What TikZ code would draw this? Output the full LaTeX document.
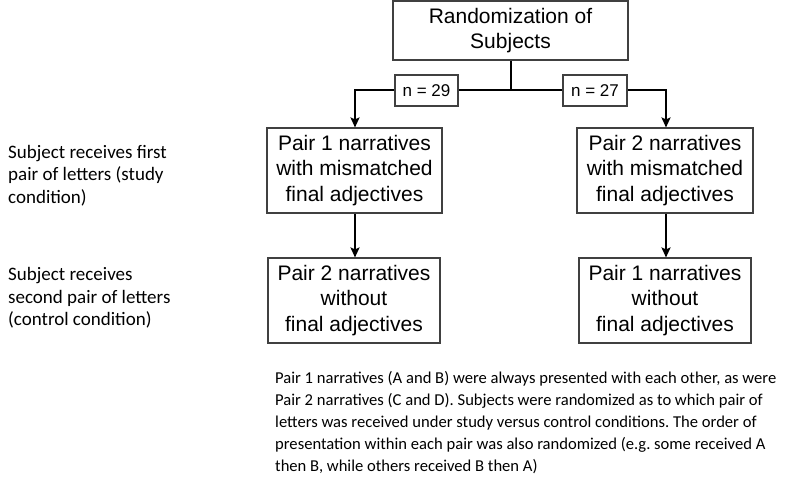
\documentclass[tikz,border=0pt]{standalone}
\usepackage{fontspec}
\setmainfont{Liberation Sans}
\newfontfamily\calib{Carlito}
\usetikzlibrary{arrows.meta}
\begin{document}
\frenchspacing
\begin{tikzpicture}[x=1pt,y=-1pt,
  box/.style={draw=black!75, line width=1.1pt, inner sep=0pt, align=center,
     font=\fontsize{21}{25.5}\selectfont},
  nbox/.style={draw=black!75, line width=1.1pt, inner sep=0pt, align=center,
     minimum width=63pt, minimum height=31pt, fill=white,
     font=\fontsize{17}{20}\selectfont},
  side/.style={anchor=west, align=left, inner sep=0pt,
     font=\calib\fontsize{19}{22.5}\selectfont},
  para/.style={anchor=north west, align=left, inner sep=0pt,
     font=\calib\fontsize{16.6}{22}\selectfont},
  conn/.style={line width=2pt, black},
  arr/.style={conn, -{Stealth[length=10pt,width=9pt,inset=2pt]}}]
\useasboundingbox (0,0) rectangle (800,487);

\node[box, minimum width=235pt, minimum height=59pt] (top) at (510.5,30.5) {Randomization of\\Subjects};
\node[box, minimum width=175pt, minimum height=85pt] (l1) at (354.5,170.5) {Pair 1 narratives\\with mismatched\\final adjectives};
\node[box, minimum width=176pt, minimum height=85pt] (r1) at (665,170.5) {Pair 2 narratives\\with mismatched\\final adjectives};
\node[box, minimum width=172pt, minimum height=85pt] (l2) at (354,300.5) {Pair 2 narratives\\without\\final adjectives};
\node[box, minimum width=172pt, minimum height=85pt] (r2) at (665,300.5) {Pair 1 narratives\\without\\final adjectives};

\coordinate (j) at (510.5,90);
\coordinate (jl) at (355,90);
\coordinate (jr) at (666,90);
\draw[conn] (top.south) -- (j);
\draw[arr] (j) -- (jl) -- (l1.north -| jl);
\draw[arr] (j) -- (jr) -- (r1.north -| jr);
\node[nbox] (n29) at (426.5,90.5) {n = 29};
\node[nbox, minimum width=64pt] (n27) at (595,90.5) {n = 27};

\draw[arr] (l1.south -| jl) -- (l2.north -| jl);
\draw[arr] (r1.south -| jr) -- (r2.north -| jr);

\node[side] (s1) at (8,175.5) {Subject receives first\\pair of letters (study\\condition)};
\node[side] (s2) at (8,298) {Subject receives\\second pair of letters\\(control condition)};

\node[para] (note) at (275,371) {Pair 1 narratives (A and B) were always presented with each other, as were\\
Pair 2 narratives (C and D). Subjects were randomized as to which pair of\\
letters was received under study versus control conditions. The order of\\
presentation within each pair was also randomized (e.g. some received A\\
then B, while others received B then A)};
\end{tikzpicture}
\end{document}
